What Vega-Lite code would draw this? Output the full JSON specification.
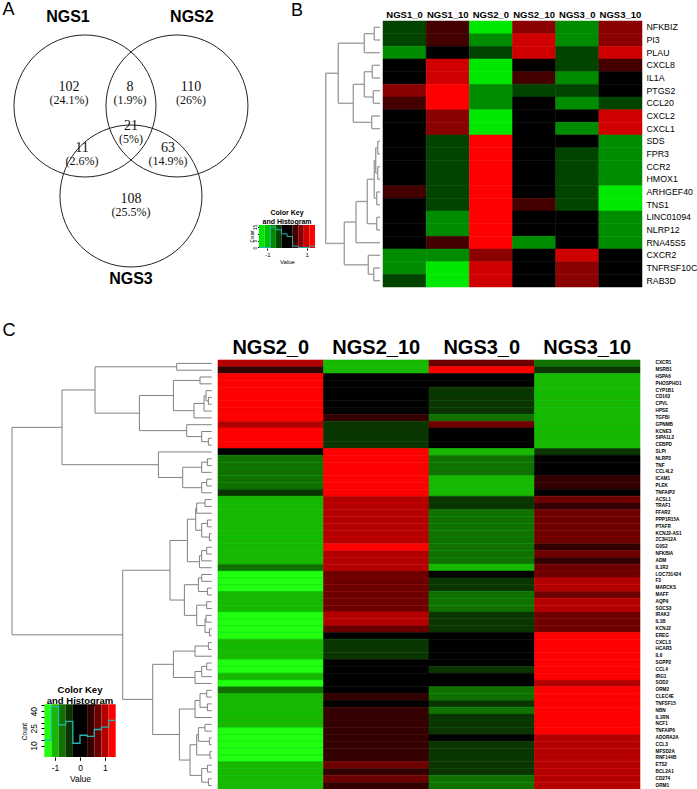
{
"$schema":"https://vega.github.io/schema/vega-lite/v6.json",
"padding":{"top":1,"left":0,"right":0,"bottom":0},
"spacing":31,
"resolve":{"scale":{"color":"independent"}},
"config":{"view":{"stroke":null},"axis":{"grid":false,"domain":false,"ticks":false,"tickSize":0,"labelFont":"Liberation Sans","titleFont":"Liberation Sans","labelColor":"#000","titleColor":"#000","labelOverlap":false},"text":{"font":"Liberation Sans"}},
"datasets":{
"vennSets":[{"set":"NGS1","cx":-0.657,"cy":0.486,"lx":-0.9,"ly":1.757},{"set":"NGS2","cx":0.657,"cy":0.486,"lx":0.87,"ly":1.757},{"set":"NGS3","cx":0,"cy":-0.8,"lx":0,"ly":-1.99}],
"vennRegions":[{"region":"NGS1 only","count":102,"pct":"(24.1%)","x":-0.886,"y":0.664},{"region":"NGS1 & NGS2","count":8,"pct":"(1.9%)","x":-0.014,"y":0.664},{"region":"NGS2 only","count":110,"pct":"(26%)","x":0.857,"y":0.664},{"region":"all","count":21,"pct":"(5%)","x":0,"y":0.1},{"region":"NGS1 & NGS3","count":11,"pct":"(2.6%)","x":-0.7,"y":-0.214},{"region":"NGS2 & NGS3","count":63,"pct":"(14.9%)","x":0.529,"y":-0.214},{"region":"NGS3 only","count":108,"pct":"(25.5%)","x":0,"y":-0.929}],
"keyB":[{"lo":-1.43,"hi":-1.144,"mid":-1.287},{"lo":-1.144,"hi":-0.858,"mid":-1.001},{"lo":-0.858,"hi":-0.572,"mid":-0.715},{"lo":-0.572,"hi":-0.286,"mid":-0.429},{"lo":-0.286,"hi":0,"mid":-0.143},{"lo":0,"hi":0.286,"mid":0.143},{"lo":0.286,"hi":0.572,"mid":0.429},{"lo":0.572,"hi":0.858,"mid":0.715},{"lo":0.858,"hi":1.144,"mid":1.001},{"lo":1.144,"hi":1.43,"mid":1.287}],
"histB":[{"edge":-1.43,"count":0},{"edge":-1.144,"count":0},{"edge":-0.858,"count":15},{"edge":-0.572,"count":13},{"edge":-0.286,"count":10},{"edge":0,"count":8},{"edge":0.286,"count":1},{"edge":0.572,"count":0},{"edge":0.858,"count":0},{"edge":1.144,"count":1},{"edge":1.43,"count":1}],
"histC":[{"edge":-1.43,"count":15},{"edge":-1.144,"count":44},{"edge":-0.858,"count":28},{"edge":-0.572,"count":31},{"edge":-0.286,"count":12},{"edge":0,"count":19},{"edge":0.286,"count":18},{"edge":0.572,"count":24},{"edge":0.858,"count":26},{"edge":1.144,"count":32},{"edge":1.43,"count":32}],
"dendroB":[{"h":5.7,"ya":0,"yb":1,"ha":0,"hb":0},{"h":15.7,"ya":0.5,"yb":2,"ha":5.7,"hb":0},{"h":7.7,"ya":3,"yb":4,"ha":0,"hb":0},{"h":6.7,"ya":5,"yb":6,"ha":0,"hb":0},{"h":15.7,"ya":3.5,"yb":5.5,"ha":7.7,"hb":6.7},{"h":8.3,"ya":7,"yb":8,"ha":0,"hb":0},{"h":26.7,"ya":4.5,"yb":7.5,"ha":15.7,"hb":8.3},{"h":41.7,"ya":1.25,"yb":6,"ha":15.7,"hb":26.7},{"h":2.3,"ya":9,"yb":10,"ha":0,"hb":0},{"h":2.3,"ya":11,"yb":12,"ha":0,"hb":0},{"h":4.3,"ya":9.5,"yb":11.5,"ha":2.3,"hb":2.3},{"h":3.3,"ya":13,"yb":14,"ha":0,"hb":0},{"h":5.7,"ya":10.5,"yb":13.5,"ha":4.3,"hb":3.3},{"h":3.3,"ya":15,"yb":16,"ha":0,"hb":0},{"h":12.7,"ya":12,"yb":15.5,"ha":5.7,"hb":3.3},{"h":24,"ya":13.75,"yb":17,"ha":12.7,"hb":0},{"h":6.3,"ya":19,"yb":20,"ha":0,"hb":0},{"h":11.7,"ya":18,"yb":19.5,"ha":0,"hb":6.3},{"h":35.7,"ya":15.375,"yb":18.75,"ha":24,"hb":11.7},{"h":54.3,"ya":3.625,"yb":17.06,"ha":41.7,"hb":35.7}],
"dendroC":[{"h":35,"ya":0,"yb":1,"ha":0,"hb":0},{"h":11.7,"ya":2,"yb":3,"ha":0,"hb":0},{"h":3.3,"ya":5,"yb":6,"ha":0,"hb":0},{"h":5.7,"ya":4,"yb":5.5,"ha":0,"hb":3.3},{"h":7.7,"ya":4.75,"yb":7,"ha":5.7,"hb":0},{"h":17.7,"ya":5.875,"yb":8,"ha":7.7,"hb":0},{"h":38.3,"ya":2.5,"yb":6.94,"ha":11.7,"hb":17.7},{"h":3.3,"ya":11,"yb":12,"ha":0,"hb":0},{"h":10,"ya":10,"yb":11.5,"ha":0,"hb":3.3},{"h":25,"ya":9,"yb":10.75,"ha":0,"hb":10},{"h":72.3,"ya":4.72,"yb":9.875,"ha":38.3,"hb":25},{"h":4.3,"ya":14,"yb":15,"ha":0,"hb":0},{"h":10,"ya":14.5,"yb":16,"ha":4.3,"hb":0},{"h":5,"ya":17,"yb":18,"ha":0,"hb":0},{"h":10,"ya":17.5,"yb":19,"ha":5,"hb":0},{"h":29,"ya":15.25,"yb":18.25,"ha":10,"hb":10},{"h":53.3,"ya":13,"yb":16.75,"ha":0,"hb":29},{"h":6.7,"ya":20,"yb":21,"ha":0,"hb":0},{"h":15,"ya":20.5,"yb":22,"ha":6.7,"hb":0},{"h":4.3,"ya":23,"yb":24,"ha":0,"hb":0},{"h":2.3,"ya":25,"yb":26,"ha":0,"hb":0},{"h":10,"ya":23.5,"yb":25.5,"ha":4.3,"hb":2.3},{"h":16,"ya":21.25,"yb":24.5,"ha":15,"hb":10},{"h":5,"ya":27,"yb":28,"ha":0,"hb":0},{"h":10,"ya":27.5,"yb":29,"ha":5,"hb":0},{"h":12.3,"ya":28.25,"yb":30,"ha":10,"hb":0},{"h":24.3,"ya":22.875,"yb":29.125,"ha":16,"hb":12.3},{"h":10,"ya":31,"yb":32,"ha":0,"hb":0},{"h":4.3,"ya":33,"yb":34,"ha":0,"hb":0},{"h":13.3,"ya":31.5,"yb":33.5,"ha":10,"hb":4.3},{"h":5,"ya":35,"yb":36,"ha":0,"hb":0},{"h":5.7,"ya":37,"yb":38,"ha":0,"hb":0},{"h":2.3,"ya":39,"yb":40,"ha":0,"hb":0},{"h":6.7,"ya":37.5,"yb":39.5,"ha":5.7,"hb":2.3},{"h":15,"ya":35.5,"yb":38.5,"ha":5,"hb":6.7},{"h":27.3,"ya":32.5,"yb":37,"ha":13.3,"hb":15},{"h":41.7,"ya":26,"yb":34.75,"ha":24.3,"hb":27.3},{"h":3.3,"ya":41,"yb":42,"ha":0,"hb":0},{"h":16.7,"ya":41.5,"yb":43,"ha":3.3,"hb":0},{"h":5,"ya":44,"yb":45,"ha":0,"hb":0},{"h":10,"ya":44.5,"yb":46,"ha":5,"hb":0},{"h":16.7,"ya":45.25,"yb":47,"ha":10,"hb":0},{"h":38.3,"ya":42.25,"yb":46.125,"ha":16.7,"hb":16.7},{"h":5,"ya":48,"yb":49,"ha":0,"hb":0},{"h":4.3,"ya":50,"yb":51,"ha":0,"hb":0},{"h":11.7,"ya":48.5,"yb":50.5,"ha":5,"hb":4.3},{"h":16.7,"ya":49.5,"yb":52,"ha":11.7,"hb":0},{"h":6.7,"ya":53,"yb":54,"ha":0,"hb":0},{"h":2.3,"ya":55,"yb":56,"ha":0,"hb":0},{"h":13.3,"ya":53.5,"yb":55.5,"ha":6.7,"hb":2.3},{"h":1.7,"ya":57,"yb":58,"ha":0,"hb":0},{"h":15,"ya":54.5,"yb":57.5,"ha":13.3,"hb":1.7},{"h":4.3,"ya":59,"yb":60,"ha":0,"hb":0},{"h":3.3,"ya":61,"yb":62,"ha":0,"hb":0},{"h":10,"ya":59.5,"yb":61.5,"ha":4.3,"hb":3.3},{"h":21.7,"ya":56,"yb":60.5,"ha":15,"hb":10},{"h":32.3,"ya":50.75,"yb":58.25,"ha":16.7,"hb":21.7},{"h":59,"ya":44.19,"yb":54.5,"ha":38.3,"hb":32.3},{"h":116.7,"ya":0.5,"yb":7.3,"ha":35,"hb":72.3},{"h":149.7,"ya":3.9,"yb":14.875,"ha":116.7,"hb":53.3},{"h":89,"ya":30.375,"yb":49.34,"ha":41.7,"hb":59},{"h":199.7,"ya":9.39,"yb":39.86,"ha":149.7,"hb":89}],
"heatB":[
{"gene":"NFKBIZ","sample":"NGS1_0","value":-0.43},{"gene":"NFKBIZ","sample":"NGS1_10","value":0.43},{"gene":"NFKBIZ","sample":"NGS2_0","value":-1.29},{"gene":"NFKBIZ","sample":"NGS2_10","value":0.715},{"gene":"NFKBIZ","sample":"NGS3_0","value":-0.715},{"gene":"NFKBIZ","sample":"NGS3_10","value":0.715},
{"gene":"PI3","sample":"NGS1_0","value":-0.43},{"gene":"PI3","sample":"NGS1_10","value":0.43},{"gene":"PI3","sample":"NGS2_0","value":-0.715},{"gene":"PI3","sample":"NGS2_10","value":1.0},{"gene":"PI3","sample":"NGS3_0","value":-0.715},{"gene":"PI3","sample":"NGS3_10","value":0.715},
{"gene":"PLAU","sample":"NGS1_0","value":-0.715},{"gene":"PLAU","sample":"NGS1_10","value":0.05},{"gene":"PLAU","sample":"NGS2_0","value":-0.43},{"gene":"PLAU","sample":"NGS2_10","value":1.0},{"gene":"PLAU","sample":"NGS3_0","value":-0.43},{"gene":"PLAU","sample":"NGS3_10","value":1.0},
{"gene":"CXCL8","sample":"NGS1_0","value":0.05},{"gene":"CXCL8","sample":"NGS1_10","value":1.0},{"gene":"CXCL8","sample":"NGS2_0","value":-1.29},{"gene":"CXCL8","sample":"NGS2_10","value":0.05},{"gene":"CXCL8","sample":"NGS3_0","value":-0.43},{"gene":"CXCL8","sample":"NGS3_10","value":0.43},
{"gene":"IL1A","sample":"NGS1_0","value":0.05},{"gene":"IL1A","sample":"NGS1_10","value":1.0},{"gene":"IL1A","sample":"NGS2_0","value":-1.29},{"gene":"IL1A","sample":"NGS2_10","value":0.43},{"gene":"IL1A","sample":"NGS3_0","value":-0.715},{"gene":"IL1A","sample":"NGS3_10","value":0.05},
{"gene":"PTGS2","sample":"NGS1_0","value":0.715},{"gene":"PTGS2","sample":"NGS1_10","value":1.29},{"gene":"PTGS2","sample":"NGS2_0","value":-0.715},{"gene":"PTGS2","sample":"NGS2_10","value":-0.43},{"gene":"PTGS2","sample":"NGS3_0","value":-0.43},{"gene":"PTGS2","sample":"NGS3_10","value":0.05},
{"gene":"CCL20","sample":"NGS1_0","value":0.43},{"gene":"CCL20","sample":"NGS1_10","value":1.29},{"gene":"CCL20","sample":"NGS2_0","value":-0.715},{"gene":"CCL20","sample":"NGS2_10","value":0.05},{"gene":"CCL20","sample":"NGS3_0","value":-0.715},{"gene":"CCL20","sample":"NGS3_10","value":-0.43},
{"gene":"CXCL2","sample":"NGS1_0","value":0.05},{"gene":"CXCL2","sample":"NGS1_10","value":0.715},{"gene":"CXCL2","sample":"NGS2_0","value":-1.29},{"gene":"CXCL2","sample":"NGS2_10","value":0.05},{"gene":"CXCL2","sample":"NGS3_0","value":0.05},{"gene":"CXCL2","sample":"NGS3_10","value":1.0},
{"gene":"CXCL1","sample":"NGS1_0","value":0.05},{"gene":"CXCL1","sample":"NGS1_10","value":0.715},{"gene":"CXCL1","sample":"NGS2_0","value":-1.29},{"gene":"CXCL1","sample":"NGS2_10","value":0.05},{"gene":"CXCL1","sample":"NGS3_0","value":-0.715},{"gene":"CXCL1","sample":"NGS3_10","value":1.0},
{"gene":"SDS","sample":"NGS1_0","value":0.05},{"gene":"SDS","sample":"NGS1_10","value":-0.43},{"gene":"SDS","sample":"NGS2_0","value":1.29},{"gene":"SDS","sample":"NGS2_10","value":0.05},{"gene":"SDS","sample":"NGS3_0","value":0.05},{"gene":"SDS","sample":"NGS3_10","value":-0.715},
{"gene":"FPR3","sample":"NGS1_0","value":0.05},{"gene":"FPR3","sample":"NGS1_10","value":-0.43},{"gene":"FPR3","sample":"NGS2_0","value":1.29},{"gene":"FPR3","sample":"NGS2_10","value":0.05},{"gene":"FPR3","sample":"NGS3_0","value":-0.43},{"gene":"FPR3","sample":"NGS3_10","value":-0.715},
{"gene":"CCR2","sample":"NGS1_0","value":0.05},{"gene":"CCR2","sample":"NGS1_10","value":-0.43},{"gene":"CCR2","sample":"NGS2_0","value":1.29},{"gene":"CCR2","sample":"NGS2_10","value":0.05},{"gene":"CCR2","sample":"NGS3_0","value":-0.43},{"gene":"CCR2","sample":"NGS3_10","value":-0.715},
{"gene":"HMOX1","sample":"NGS1_0","value":0.05},{"gene":"HMOX1","sample":"NGS1_10","value":-0.43},{"gene":"HMOX1","sample":"NGS2_0","value":1.29},{"gene":"HMOX1","sample":"NGS2_10","value":0.05},{"gene":"HMOX1","sample":"NGS3_0","value":-0.43},{"gene":"HMOX1","sample":"NGS3_10","value":-0.715},
{"gene":"ARHGEF40","sample":"NGS1_0","value":0.43},{"gene":"ARHGEF40","sample":"NGS1_10","value":-0.43},{"gene":"ARHGEF40","sample":"NGS2_0","value":1.29},{"gene":"ARHGEF40","sample":"NGS2_10","value":0.05},{"gene":"ARHGEF40","sample":"NGS3_0","value":-0.43},{"gene":"ARHGEF40","sample":"NGS3_10","value":-1.29},
{"gene":"TNS1","sample":"NGS1_0","value":0.05},{"gene":"TNS1","sample":"NGS1_10","value":-0.43},{"gene":"TNS1","sample":"NGS2_0","value":1.29},{"gene":"TNS1","sample":"NGS2_10","value":0.43},{"gene":"TNS1","sample":"NGS3_0","value":-0.43},{"gene":"TNS1","sample":"NGS3_10","value":-1.29},
{"gene":"LINC01094","sample":"NGS1_0","value":0.05},{"gene":"LINC01094","sample":"NGS1_10","value":-0.715},{"gene":"LINC01094","sample":"NGS2_0","value":1.29},{"gene":"LINC01094","sample":"NGS2_10","value":0.05},{"gene":"LINC01094","sample":"NGS3_0","value":0.05},{"gene":"LINC01094","sample":"NGS3_10","value":-0.715},
{"gene":"NLRP12","sample":"NGS1_0","value":0.05},{"gene":"NLRP12","sample":"NGS1_10","value":-0.715},{"gene":"NLRP12","sample":"NGS2_0","value":1.29},{"gene":"NLRP12","sample":"NGS2_10","value":0.05},{"gene":"NLRP12","sample":"NGS3_0","value":0.05},{"gene":"NLRP12","sample":"NGS3_10","value":-0.715},
{"gene":"RNA45S5","sample":"NGS1_0","value":0.05},{"gene":"RNA45S5","sample":"NGS1_10","value":0.43},{"gene":"RNA45S5","sample":"NGS2_0","value":1.29},{"gene":"RNA45S5","sample":"NGS2_10","value":-0.715},{"gene":"RNA45S5","sample":"NGS3_0","value":0.05},{"gene":"RNA45S5","sample":"NGS3_10","value":-0.715},
{"gene":"CXCR2","sample":"NGS1_0","value":-0.715},{"gene":"CXCR2","sample":"NGS1_10","value":-0.715},{"gene":"CXCR2","sample":"NGS2_0","value":0.715},{"gene":"CXCR2","sample":"NGS2_10","value":0.05},{"gene":"CXCR2","sample":"NGS3_0","value":1.0},{"gene":"CXCR2","sample":"NGS3_10","value":0.05},
{"gene":"TNFRSF10C","sample":"NGS1_0","value":-0.715},{"gene":"TNFRSF10C","sample":"NGS1_10","value":-1.29},{"gene":"TNFRSF10C","sample":"NGS2_0","value":1.0},{"gene":"TNFRSF10C","sample":"NGS2_10","value":0.05},{"gene":"TNFRSF10C","sample":"NGS3_0","value":0.715},{"gene":"TNFRSF10C","sample":"NGS3_10","value":0.05},
{"gene":"RAB3D","sample":"NGS1_0","value":-0.43},{"gene":"RAB3D","sample":"NGS1_10","value":-1.29},{"gene":"RAB3D","sample":"NGS2_0","value":1.0},{"gene":"RAB3D","sample":"NGS2_10","value":0.05},{"gene":"RAB3D","sample":"NGS3_0","value":0.715},{"gene":"RAB3D","sample":"NGS3_10","value":0.05}
],
"heatC":[
{"gene":"CXCR1","sample":"NGS2_0","value":1.0},{"gene":"CXCR1","sample":"NGS2_10","value":-1.0},{"gene":"CXCR1","sample":"NGS3_0","value":0.715},{"gene":"CXCR1","sample":"NGS3_10","value":-0.715},
{"gene":"MSRB1","sample":"NGS2_0","value":0.43},{"gene":"MSRB1","sample":"NGS2_10","value":-1.0},{"gene":"MSRB1","sample":"NGS3_0","value":1.29},{"gene":"MSRB1","sample":"NGS3_10","value":-0.43},
{"gene":"HSPA6","sample":"NGS2_0","value":1.29},{"gene":"HSPA6","sample":"NGS2_10","value":0.05},{"gene":"HSPA6","sample":"NGS3_0","value":0.05},{"gene":"HSPA6","sample":"NGS3_10","value":-1.0},
{"gene":"PHOSPHO1","sample":"NGS2_0","value":1.29},{"gene":"PHOSPHO1","sample":"NGS2_10","value":0.05},{"gene":"PHOSPHO1","sample":"NGS3_0","value":0.05},{"gene":"PHOSPHO1","sample":"NGS3_10","value":-1.0},
{"gene":"CYP1B1","sample":"NGS2_0","value":1.29},{"gene":"CYP1B1","sample":"NGS2_10","value":0.05},{"gene":"CYP1B1","sample":"NGS3_0","value":-0.43},{"gene":"CYP1B1","sample":"NGS3_10","value":-1.0},
{"gene":"CD163","sample":"NGS2_0","value":1.29},{"gene":"CD163","sample":"NGS2_10","value":0.05},{"gene":"CD163","sample":"NGS3_0","value":-0.43},{"gene":"CD163","sample":"NGS3_10","value":-1.0},
{"gene":"CPVL","sample":"NGS2_0","value":1.29},{"gene":"CPVL","sample":"NGS2_10","value":0.05},{"gene":"CPVL","sample":"NGS3_0","value":-0.43},{"gene":"CPVL","sample":"NGS3_10","value":-1.0},
{"gene":"HPSE","sample":"NGS2_0","value":1.29},{"gene":"HPSE","sample":"NGS2_10","value":0.05},{"gene":"HPSE","sample":"NGS3_0","value":-0.43},{"gene":"HPSE","sample":"NGS3_10","value":-1.0},
{"gene":"TGFBI","sample":"NGS2_0","value":1.29},{"gene":"TGFBI","sample":"NGS2_10","value":0.43},{"gene":"TGFBI","sample":"NGS3_0","value":-0.715},{"gene":"TGFBI","sample":"NGS3_10","value":-1.0},
{"gene":"GPNMB","sample":"NGS2_0","value":1.0},{"gene":"GPNMB","sample":"NGS2_10","value":-0.43},{"gene":"GPNMB","sample":"NGS3_0","value":0.715},{"gene":"GPNMB","sample":"NGS3_10","value":-1.0},
{"gene":"KCNE3","sample":"NGS2_0","value":1.29},{"gene":"KCNE3","sample":"NGS2_10","value":-0.43},{"gene":"KCNE3","sample":"NGS3_0","value":0.05},{"gene":"KCNE3","sample":"NGS3_10","value":-1.0},
{"gene":"SIPA1L2","sample":"NGS2_0","value":1.29},{"gene":"SIPA1L2","sample":"NGS2_10","value":-0.43},{"gene":"SIPA1L2","sample":"NGS3_0","value":0.05},{"gene":"SIPA1L2","sample":"NGS3_10","value":-1.0},
{"gene":"CEBPD","sample":"NGS2_0","value":1.29},{"gene":"CEBPD","sample":"NGS2_10","value":-0.43},{"gene":"CEBPD","sample":"NGS3_0","value":0.05},{"gene":"CEBPD","sample":"NGS3_10","value":-1.0},
{"gene":"SLPI","sample":"NGS2_0","value":0.05},{"gene":"SLPI","sample":"NGS2_10","value":1.29},{"gene":"SLPI","sample":"NGS3_0","value":-1.0},{"gene":"SLPI","sample":"NGS3_10","value":-0.43},
{"gene":"NLRP3","sample":"NGS2_0","value":-0.715},{"gene":"NLRP3","sample":"NGS2_10","value":1.29},{"gene":"NLRP3","sample":"NGS3_0","value":-0.715},{"gene":"NLRP3","sample":"NGS3_10","value":0.05},
{"gene":"TNF","sample":"NGS2_0","value":-0.715},{"gene":"TNF","sample":"NGS2_10","value":1.29},{"gene":"TNF","sample":"NGS3_0","value":-0.715},{"gene":"TNF","sample":"NGS3_10","value":0.05},
{"gene":"CCL4L2","sample":"NGS2_0","value":-0.715},{"gene":"CCL4L2","sample":"NGS2_10","value":1.29},{"gene":"CCL4L2","sample":"NGS3_0","value":-0.715},{"gene":"CCL4L2","sample":"NGS3_10","value":0.05},
{"gene":"ICAM1","sample":"NGS2_0","value":-0.715},{"gene":"ICAM1","sample":"NGS2_10","value":1.29},{"gene":"ICAM1","sample":"NGS3_0","value":-1.0},{"gene":"ICAM1","sample":"NGS3_10","value":0.43},
{"gene":"PLEK","sample":"NGS2_0","value":-0.715},{"gene":"PLEK","sample":"NGS2_10","value":1.29},{"gene":"PLEK","sample":"NGS3_0","value":-1.0},{"gene":"PLEK","sample":"NGS3_10","value":0.43},
{"gene":"TNFAIP2","sample":"NGS2_0","value":-0.43},{"gene":"TNFAIP2","sample":"NGS2_10","value":1.29},{"gene":"TNFAIP2","sample":"NGS3_0","value":-1.0},{"gene":"TNFAIP2","sample":"NGS3_10","value":0.05},
{"gene":"ACSL1","sample":"NGS2_0","value":-1.0},{"gene":"ACSL1","sample":"NGS2_10","value":1.0},{"gene":"ACSL1","sample":"NGS3_0","value":-0.43},{"gene":"ACSL1","sample":"NGS3_10","value":0.715},
{"gene":"TRAF1","sample":"NGS2_0","value":-1.0},{"gene":"TRAF1","sample":"NGS2_10","value":1.0},{"gene":"TRAF1","sample":"NGS3_0","value":-0.43},{"gene":"TRAF1","sample":"NGS3_10","value":0.43},
{"gene":"FFAR2","sample":"NGS2_0","value":-1.0},{"gene":"FFAR2","sample":"NGS2_10","value":1.0},{"gene":"FFAR2","sample":"NGS3_0","value":-0.715},{"gene":"FFAR2","sample":"NGS3_10","value":0.715},
{"gene":"PPP1R15A","sample":"NGS2_0","value":-1.0},{"gene":"PPP1R15A","sample":"NGS2_10","value":1.0},{"gene":"PPP1R15A","sample":"NGS3_0","value":-0.715},{"gene":"PPP1R15A","sample":"NGS3_10","value":0.715},
{"gene":"PTAFR","sample":"NGS2_0","value":-1.0},{"gene":"PTAFR","sample":"NGS2_10","value":1.0},{"gene":"PTAFR","sample":"NGS3_0","value":-0.715},{"gene":"PTAFR","sample":"NGS3_10","value":0.715},
{"gene":"KCNJ2-AS1","sample":"NGS2_0","value":-1.0},{"gene":"KCNJ2-AS1","sample":"NGS2_10","value":1.0},{"gene":"KCNJ2-AS1","sample":"NGS3_0","value":-0.715},{"gene":"KCNJ2-AS1","sample":"NGS3_10","value":0.715},
{"gene":"ZC3H12A","sample":"NGS2_0","value":-1.0},{"gene":"ZC3H12A","sample":"NGS2_10","value":1.0},{"gene":"ZC3H12A","sample":"NGS3_0","value":-0.715},{"gene":"ZC3H12A","sample":"NGS3_10","value":0.715},
{"gene":"G0S2","sample":"NGS2_0","value":-1.0},{"gene":"G0S2","sample":"NGS2_10","value":1.29},{"gene":"G0S2","sample":"NGS3_0","value":-0.715},{"gene":"G0S2","sample":"NGS3_10","value":0.43},
{"gene":"NFKBIA","sample":"NGS2_0","value":-1.0},{"gene":"NFKBIA","sample":"NGS2_10","value":1.0},{"gene":"NFKBIA","sample":"NGS3_0","value":-0.715},{"gene":"NFKBIA","sample":"NGS3_10","value":0.715},
{"gene":"ADM","sample":"NGS2_0","value":-1.0},{"gene":"ADM","sample":"NGS2_10","value":1.0},{"gene":"ADM","sample":"NGS3_0","value":-0.715},{"gene":"ADM","sample":"NGS3_10","value":0.43},
{"gene":"IL1R2","sample":"NGS2_0","value":-0.715},{"gene":"IL1R2","sample":"NGS2_10","value":1.0},{"gene":"IL1R2","sample":"NGS3_0","value":-1.0},{"gene":"IL1R2","sample":"NGS3_10","value":0.715},
{"gene":"LOC731424","sample":"NGS2_0","value":-1.29},{"gene":"LOC731424","sample":"NGS2_10","value":0.715},{"gene":"LOC731424","sample":"NGS3_0","value":0.05},{"gene":"LOC731424","sample":"NGS3_10","value":0.715},
{"gene":"F3","sample":"NGS2_0","value":-1.29},{"gene":"F3","sample":"NGS2_10","value":0.715},{"gene":"F3","sample":"NGS3_0","value":-0.43},{"gene":"F3","sample":"NGS3_10","value":1.0},
{"gene":"MARCKS","sample":"NGS2_0","value":-1.29},{"gene":"MARCKS","sample":"NGS2_10","value":0.715},{"gene":"MARCKS","sample":"NGS3_0","value":-0.43},{"gene":"MARCKS","sample":"NGS3_10","value":1.0},
{"gene":"MAFF","sample":"NGS2_0","value":-1.0},{"gene":"MAFF","sample":"NGS2_10","value":0.715},{"gene":"MAFF","sample":"NGS3_0","value":-0.715},{"gene":"MAFF","sample":"NGS3_10","value":0.715},
{"gene":"AQP9","sample":"NGS2_0","value":-1.0},{"gene":"AQP9","sample":"NGS2_10","value":0.715},{"gene":"AQP9","sample":"NGS3_0","value":-0.715},{"gene":"AQP9","sample":"NGS3_10","value":1.0},
{"gene":"SOCS3","sample":"NGS2_0","value":-1.0},{"gene":"SOCS3","sample":"NGS2_10","value":0.715},{"gene":"SOCS3","sample":"NGS3_0","value":-0.715},{"gene":"SOCS3","sample":"NGS3_10","value":1.0},
{"gene":"IRAK2","sample":"NGS2_0","value":-1.29},{"gene":"IRAK2","sample":"NGS2_10","value":1.0},{"gene":"IRAK2","sample":"NGS3_0","value":-0.43},{"gene":"IRAK2","sample":"NGS3_10","value":0.715},
{"gene":"IL1B","sample":"NGS2_0","value":-1.29},{"gene":"IL1B","sample":"NGS2_10","value":1.0},{"gene":"IL1B","sample":"NGS3_0","value":-0.43},{"gene":"IL1B","sample":"NGS3_10","value":0.715},
{"gene":"KCNJ2","sample":"NGS2_0","value":-1.29},{"gene":"KCNJ2","sample":"NGS2_10","value":0.715},{"gene":"KCNJ2","sample":"NGS3_0","value":-0.43},{"gene":"KCNJ2","sample":"NGS3_10","value":0.715},
{"gene":"EREG","sample":"NGS2_0","value":-1.29},{"gene":"EREG","sample":"NGS2_10","value":0.05},{"gene":"EREG","sample":"NGS3_0","value":0.05},{"gene":"EREG","sample":"NGS3_10","value":1.29},
{"gene":"CXCL3","sample":"NGS2_0","value":-1.0},{"gene":"CXCL3","sample":"NGS2_10","value":-0.43},{"gene":"CXCL3","sample":"NGS3_0","value":0.05},{"gene":"CXCL3","sample":"NGS3_10","value":1.29},
{"gene":"HCAR3","sample":"NGS2_0","value":-1.0},{"gene":"HCAR3","sample":"NGS2_10","value":-0.43},{"gene":"HCAR3","sample":"NGS3_0","value":0.05},{"gene":"HCAR3","sample":"NGS3_10","value":1.29},
{"gene":"IL6","sample":"NGS2_0","value":-1.0},{"gene":"IL6","sample":"NGS2_10","value":-0.43},{"gene":"IL6","sample":"NGS3_0","value":0.05},{"gene":"IL6","sample":"NGS3_10","value":1.29},
{"gene":"SGPP2","sample":"NGS2_0","value":-1.29},{"gene":"SGPP2","sample":"NGS2_10","value":0.05},{"gene":"SGPP2","sample":"NGS3_0","value":0.05},{"gene":"SGPP2","sample":"NGS3_10","value":1.29},
{"gene":"CCL4","sample":"NGS2_0","value":-1.29},{"gene":"CCL4","sample":"NGS2_10","value":0.05},{"gene":"CCL4","sample":"NGS3_0","value":-0.43},{"gene":"CCL4","sample":"NGS3_10","value":1.29},
{"gene":"IRG1","sample":"NGS2_0","value":-1.0},{"gene":"IRG1","sample":"NGS2_10","value":0.05},{"gene":"IRG1","sample":"NGS3_0","value":0.05},{"gene":"IRG1","sample":"NGS3_10","value":1.29},
{"gene":"SOD2","sample":"NGS2_0","value":-1.29},{"gene":"SOD2","sample":"NGS2_10","value":0.05},{"gene":"SOD2","sample":"NGS3_0","value":0.05},{"gene":"SOD2","sample":"NGS3_10","value":1.0},
{"gene":"ORM2","sample":"NGS2_0","value":-0.715},{"gene":"ORM2","sample":"NGS2_10","value":0.05},{"gene":"ORM2","sample":"NGS3_0","value":-0.715},{"gene":"ORM2","sample":"NGS3_10","value":1.29},
{"gene":"CLEC4E","sample":"NGS2_0","value":-1.0},{"gene":"CLEC4E","sample":"NGS2_10","value":0.43},{"gene":"CLEC4E","sample":"NGS3_0","value":-0.715},{"gene":"CLEC4E","sample":"NGS3_10","value":1.29},
{"gene":"TNFSF15","sample":"NGS2_0","value":-1.0},{"gene":"TNFSF15","sample":"NGS2_10","value":0.05},{"gene":"TNFSF15","sample":"NGS3_0","value":-0.43},{"gene":"TNFSF15","sample":"NGS3_10","value":1.29},
{"gene":"NBN","sample":"NGS2_0","value":-1.0},{"gene":"NBN","sample":"NGS2_10","value":0.43},{"gene":"NBN","sample":"NGS3_0","value":-0.715},{"gene":"NBN","sample":"NGS3_10","value":1.29},
{"gene":"IL1RN","sample":"NGS2_0","value":-1.0},{"gene":"IL1RN","sample":"NGS2_10","value":0.43},{"gene":"IL1RN","sample":"NGS3_0","value":-0.43},{"gene":"IL1RN","sample":"NGS3_10","value":1.29},
{"gene":"NCF1","sample":"NGS2_0","value":-1.0},{"gene":"NCF1","sample":"NGS2_10","value":0.43},{"gene":"NCF1","sample":"NGS3_0","value":-0.43},{"gene":"NCF1","sample":"NGS3_10","value":1.29},
{"gene":"TNFAIP6","sample":"NGS2_0","value":-1.29},{"gene":"TNFAIP6","sample":"NGS2_10","value":0.43},{"gene":"TNFAIP6","sample":"NGS3_0","value":-0.43},{"gene":"TNFAIP6","sample":"NGS3_10","value":1.29},
{"gene":"ADORA2A","sample":"NGS2_0","value":-1.29},{"gene":"ADORA2A","sample":"NGS2_10","value":0.43},{"gene":"ADORA2A","sample":"NGS3_0","value":0.05},{"gene":"ADORA2A","sample":"NGS3_10","value":1.0},
{"gene":"CCL3","sample":"NGS2_0","value":-1.29},{"gene":"CCL3","sample":"NGS2_10","value":0.43},{"gene":"CCL3","sample":"NGS3_0","value":-0.43},{"gene":"CCL3","sample":"NGS3_10","value":1.0},
{"gene":"MFSD2A","sample":"NGS2_0","value":-1.29},{"gene":"MFSD2A","sample":"NGS2_10","value":0.43},{"gene":"MFSD2A","sample":"NGS3_0","value":-0.43},{"gene":"MFSD2A","sample":"NGS3_10","value":1.0},
{"gene":"RNF144B","sample":"NGS2_0","value":-1.29},{"gene":"RNF144B","sample":"NGS2_10","value":0.43},{"gene":"RNF144B","sample":"NGS3_0","value":-0.43},{"gene":"RNF144B","sample":"NGS3_10","value":1.0},
{"gene":"ETS2","sample":"NGS2_0","value":-1.0},{"gene":"ETS2","sample":"NGS2_10","value":0.715},{"gene":"ETS2","sample":"NGS3_0","value":-0.43},{"gene":"ETS2","sample":"NGS3_10","value":1.0},
{"gene":"BCL2A1","sample":"NGS2_0","value":-1.0},{"gene":"BCL2A1","sample":"NGS2_10","value":0.43},{"gene":"BCL2A1","sample":"NGS3_0","value":-0.43},{"gene":"BCL2A1","sample":"NGS3_10","value":1.0},
{"gene":"CD274","sample":"NGS2_0","value":-1.0},{"gene":"CD274","sample":"NGS2_10","value":0.715},{"gene":"CD274","sample":"NGS3_0","value":-0.715},{"gene":"CD274","sample":"NGS3_10","value":1.0},
{"gene":"ORM1","sample":"NGS2_0","value":-1.0},{"gene":"ORM1","sample":"NGS2_10","value":0.43},{"gene":"ORM1","sample":"NGS3_0","value":-0.715},{"gene":"ORM1","sample":"NGS3_10","value":1.0}
]
},
"vconcat":[
{"hconcat":[
{
"width":259,"height":269,
"layer":[
{"data":{"name":"vennSets"},"mark":{"type":"point","shape":"circle","size":20164,"filled":false,"color":"#222","strokeWidth":1,"opacity":1},
"encoding":{"x":{"field":"cx","type":"quantitative","scale":{"domain":[-1.871,1.829],"nice":false,"zero":false},"axis":null},"y":{"field":"cy","type":"quantitative","scale":{"domain":[-2.143,1.7],"nice":false,"zero":false},"axis":null}}},
{"data":{"name":"vennSets"},"mark":{"type":"text","font":"Liberation Sans","fontSize":16,"fontWeight":"bold","color":"#000"},
"encoding":{"x":{"field":"lx","type":"quantitative"},"y":{"field":"ly","type":"quantitative"},"text":{"field":"set"}}},
{"data":{"name":"vennRegions"},"mark":{"type":"text","font":"Liberation Serif","fontSize":14,"dy":-6.5,"color":"#111"},
"encoding":{"x":{"field":"x","type":"quantitative"},"y":{"field":"y","type":"quantitative"},"text":{"field":"count"}}},
{"data":{"name":"vennRegions"},"mark":{"type":"text","font":"Liberation Serif","fontSize":12,"dy":6.5,"color":"#111"},
"encoding":{"x":{"field":"x","type":"quantitative"},"y":{"field":"y","type":"quantitative"},"text":{"field":"pct"}}},
{"data":{"values":[{"panel":"A","x":-1.75,"y":1.857}]},"mark":{"type":"text","font":"Liberation Sans","fontSize":18,"color":"#000"},
"encoding":{"x":{"field":"x","type":"quantitative"},"y":{"field":"y","type":"quantitative"},"text":{"field":"panel"}}}
]
},
{
"width":56,"height":227,
"layer":[
{"data":{"name":"keyB"},"mark":{"type":"rect"},
"encoding":{
"x":{"field":"lo","type":"quantitative","scale":{"domain":[-1.43,1.43],"nice":false,"zero":false},"axis":{"values":[-1,0,1],"labelExpr":"toString(datum.value)","ticks":true,"tickSize":2,"tickColor":"#000","labelFontSize":6,"labelPadding":1,"labelAngle":0,"title":"Value","titleFontSize":6,"titleFontWeight":"normal","titlePadding":1}},
"x2":{"field":"hi"},
"y":{"datum":-0.37,"type":"quantitative","scale":{"domain":[-0.37,165.7],"nice":false,"zero":false},"axis":{"values":[0,5,10,15],"labelExpr":"datum.value == 10 ? '' : toString(datum.value)","ticks":true,"tickSize":1.5,"tickColor":"#000","labelFontSize":5,"labelAngle":-90,"labelAlign":"center","labelBaseline":"bottom","labelPadding":0.5,"title":"Count","titleFontSize":4.5,"titleFontWeight":"normal","titleX":-7,"titleY":215,"titleBaseline":"middle"}},
"y2":{"datum":16.5},
"color":{"field":"mid","type":"quantitative","scale":{"type":"quantize","domain":[-1.43,1.43],"nice":false,"zero":false,"range":["#00E800","#00C000","#008C00","#004400","#000000","#000000","#440000","#8B0000","#D00000","#FF0000"]},"legend":null}}},
{"data":{"name":"histB"},"mark":{"type":"line","interpolate":"step-after","color":"#27B3B3","strokeWidth":1},
"encoding":{"x":{"field":"edge","type":"quantitative"},"y":{"field":"count","type":"quantitative"}}},
{"data":{"values":[{"t":"Color Key","v":0,"c":25.2},{"t":"and Histogram","v":0,"c":18.9}]},"mark":{"type":"text","fontSize":7,"fontWeight":"bold","color":"#000"},
"encoding":{"x":{"field":"v","type":"quantitative"},"y":{"field":"c","type":"quantitative"},"text":{"field":"t"}}}
]
},
{
"width":68,"height":269,"data":{"name":"dendroB"},
"layer":[
{"mark":{"type":"rule","color":"#a0a0a0","strokeWidth":1.4},"encoding":{"x":{"field":"h","type":"quantitative","scale":{"domain":[-3,65],"reverse":true,"nice":false,"zero":false},"axis":null},"y":{"field":"ya","type":"quantitative","scale":{"domain":[-0.5,20.737],"reverse":true,"nice":false,"zero":false},"axis":null},"y2":{"field":"yb"}}},
{"mark":{"type":"rule","color":"#a0a0a0","strokeWidth":1.4},"encoding":{"x":{"field":"ha","type":"quantitative"},"x2":{"field":"h"},"y":{"field":"ya","type":"quantitative"}}},
{"mark":{"type":"rule","color":"#a0a0a0","strokeWidth":1.4},"encoding":{"x":{"field":"hb","type":"quantitative"},"x2":{"field":"h"},"y":{"field":"yb","type":"quantitative"}}},
{"data":{"values":[{"panel":"B","h":83,"p":-1.29}]},"mark":{"type":"text","fontSize":18,"color":"#000"},"encoding":{"x":{"field":"h","type":"quantitative"},"y":{"field":"p","type":"quantitative"},"text":{"field":"panel"}}}
]
},
{
"width":259,"height":266,"data":{"name":"heatB"},
"mark":{"type":"rect","strokeWidth":0.5},
"encoding":{
"x":{"field":"sample","type":"nominal","sort":null,"scale":{"paddingInner":0,"paddingOuter":0},"axis":{"orient":"top","title":null,"labelAngle":0,"labelFontWeight":"bold","labelFontSize":9.5,"labelPadding":2}},
"y":{"field":"gene","type":"nominal","sort":null,"scale":{"paddingInner":0,"paddingOuter":0},"axis":{"orient":"right","title":null,"labelFontSize":8.8,"labelPadding":4}},
"color":{"field":"value","type":"quantitative","scale":{"type":"quantize","domain":[-1.43,1.43],"nice":false,"zero":false,"range":["#00E800","#00C000","#008C00","#004400","#000000","#000000","#440000","#8B0000","#D00000","#FF0000"]},"legend":null},
"stroke":{"field":"value","type":"quantitative","scale":{"type":"quantize","domain":[-1.43,1.43],"nice":false,"zero":false,"range":["#00E800","#00C000","#008C00","#004400","#000000","#000000","#440000","#8B0000","#D00000","#FF0000"]},"legend":null}
}
}
],"spacing":0,"bounds":"flush"},
{"hconcat":[
{
"width":116,"height":397,
"layer":[
{"data":{"name":"keyB"},"mark":{"type":"rect"},
"encoding":{
"x":{"field":"lo","type":"quantitative","scale":{"domain":[-3.204,1.442],"nice":false,"zero":false},"axis":{"values":[-1,0,1],"labelExpr":"toString(datum.value)","ticks":true,"tickSize":3.3,"tickColor":"#000","labelFontSize":8.5,"labelPadding":3,"labelAngle":0,"title":"Value","titleFontSize":8.5,"titleFontWeight":"normal","titlePadding":3,"titleX":80}},
"x2":{"field":"hi"},
"y":{"datum":0,"type":"quantitative","scale":{"domain":[0,346.4],"nice":false,"zero":false},"axis":{"offset":-44.3,"values":[10,15,20,25,30,35,40,45],"labelExpr":"indexof([10,25,40], datum.value) >= 0 ? toString(datum.value) : ''","ticks":true,"tickSize":3.3,"tickColor":"#000","labelFontSize":8.5,"labelAngle":-90,"labelAlign":"center","labelBaseline":"bottom","labelPadding":2.5,"title":"Count","titleFontSize":6.5,"titleFontWeight":"normal","titleX":-20,"titleY":371,"titleBaseline":"middle"}},
"y2":{"datum":46},
"color":{"field":"mid","type":"quantitative","scale":{"type":"quantize","domain":[-1.43,1.43],"nice":false,"zero":false,"range":["#22FF10","#19B800","#107000","#0A3400","#000000","#000000","#320000","#6C0000","#B20000","#FF0000"]},"legend":null}}},
{"data":{"name":"histC"},"mark":{"type":"line","interpolate":"step-after","color":"#27B3B3","strokeWidth":1.3},
"encoding":{"x":{"field":"edge","type":"quantitative"},"y":{"field":"count","type":"quantitative"}}},
{"data":{"values":[{"t":"Color Key","v":0,"c":58.5},{"t":"and Histogram","v":0,"c":48.9}]},"mark":{"type":"text","fontSize":9.5,"fontWeight":"bold","color":"#000"},
"encoding":{"x":{"field":"v","type":"quantitative"},"y":{"field":"c","type":"quantitative"},"text":{"field":"t"}}}
]
},
{
"width":102,"height":429,"data":{"name":"dendroC"},
"layer":[
{"mark":{"type":"rule","color":"#808080","strokeWidth":1},"encoding":{"x":{"field":"h","type":"quantitative","scale":{"domain":[-6.3,95.7],"reverse":true,"nice":false,"zero":false},"axis":null},"y":{"field":"ya","type":"quantitative","scale":{"domain":[-0.5,62.5],"reverse":true,"nice":false,"zero":false},"axis":null},"y2":{"field":"yb"}}},
{"mark":{"type":"rule","color":"#808080","strokeWidth":1},"encoding":{"x":{"field":"ha","type":"quantitative"},"x2":{"field":"h"},"y":{"field":"ya","type":"quantitative"}}},
{"mark":{"type":"rule","color":"#808080","strokeWidth":1},"encoding":{"x":{"field":"hb","type":"quantitative"},"x2":{"field":"h"},"y":{"field":"yb","type":"quantitative"}}},
{"data":{"values":[{"panel":"C","h":202.7,"p":-4.76}]},"mark":{"type":"text","fontSize":18,"color":"#000"},"encoding":{"x":{"field":"h","type":"quantitative"},"y":{"field":"p","type":"quantitative"},"text":{"field":"panel"}}}
]
},
{
"width":422,"height":429,"data":{"name":"heatC"},
"mark":{"type":"rect","strokeWidth":0.6},
"encoding":{
"x":{"field":"sample","type":"nominal","sort":null,"scale":{"paddingInner":0,"paddingOuter":0},"axis":{"orient":"top","title":null,"labelAngle":0,"labelFontWeight":"bold","labelFontSize":20,"labelPadding":3}},
"y":{"field":"gene","type":"nominal","sort":null,"scale":{"paddingInner":0,"paddingOuter":0},"axis":{"orient":"right","title":null,"labelFontSize":4.7,"labelFontWeight":"bold","labelPadding":15}},
"color":{"field":"value","type":"quantitative","scale":{"type":"quantize","domain":[-1.43,1.43],"nice":false,"zero":false,"range":["#22FF10","#19B800","#107000","#0A3400","#000000","#000000","#320000","#6C0000","#B20000","#FF0000"]},"legend":null},
"stroke":{"field":"value","type":"quantitative","scale":{"type":"quantize","domain":[-1.43,1.43],"nice":false,"zero":false,"range":["#22FF10","#19B800","#107000","#0A3400","#000000","#000000","#320000","#6C0000","#B20000","#FF0000"]},"legend":null}
}
}
],"spacing":0,"bounds":"flush"}
]
}
